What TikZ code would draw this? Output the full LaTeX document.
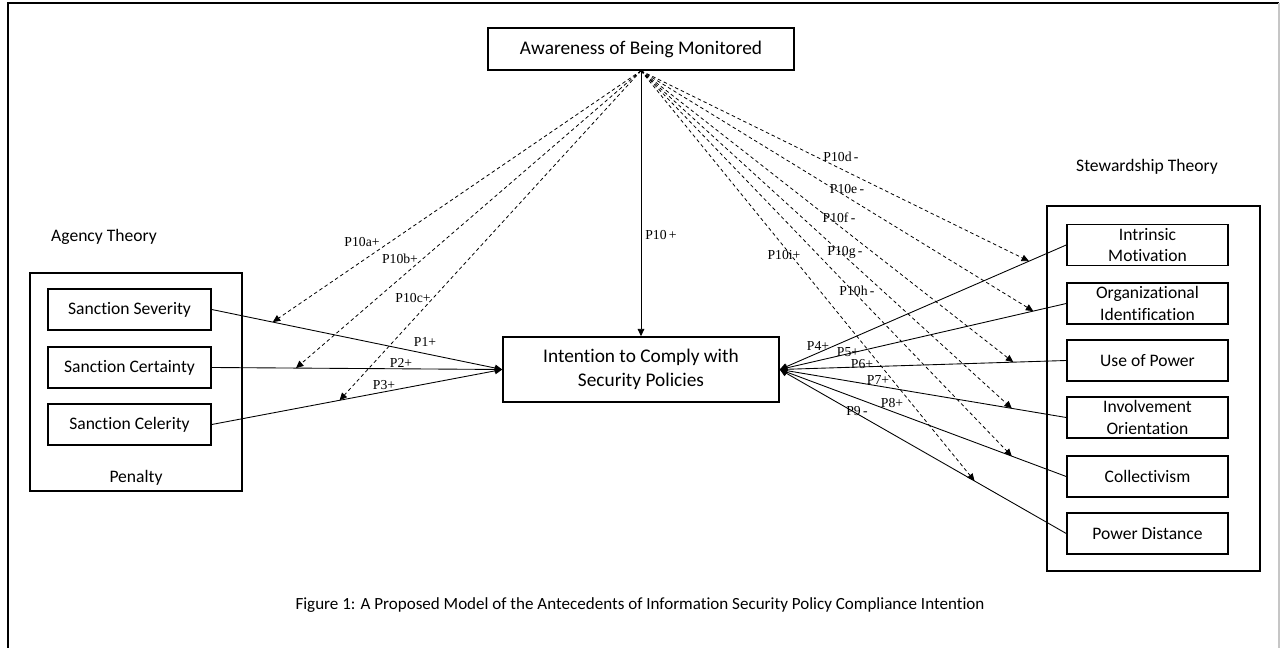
\documentclass[tikz,border=0pt]{standalone}
\usepackage{fontspec}
\setmainfont{Carlito}[Ligatures={NoCommon,NoRequired,NoContextual}, Contextuals=NoAlternate]
\newfontfamily\timesfont{Liberation Serif}
\usetikzlibrary{arrows.meta,calc}

\begin{document}
\begin{tikzpicture}[x=0.02cm, y=-0.02cm,
    box/.style={draw, line width=0.9pt, minimum width=3.22cm, minimum height=0.82cm,
        inner sep=1pt, align=center, font=\fontsize{10}{12}\selectfont},
    groupbox/.style={draw, line width=0.9pt, inner sep=0pt},
    grouplabel/.style={font=\fontsize{10}{12}\selectfont},
    link/.style={-{Triangle[width=3.8pt,length=4.2pt]}, line width=0.5pt},
    moderate/.style={link, dash pattern=on 2pt off 1.6pt, line width=0.45pt},
    plabel/.style={font=\timesfont\fontsize{7.8}{9}\selectfont, inner sep=0pt}]
   \useasboundingbox (0,0) rectangle (1281,648);
   % outer frame
   \draw[line width=1.2pt] (8,648) -- (8,3) -- (1279,3);
   \draw[gray!45, line width=0.8pt] (1279,3) -- (1279,648);

   % agency theory
   \node[grouplabel] (agencylbl) at (104,237) {Agency Theory};
   \node[groupbox, minimum width=4.24cm, minimum height=4.36cm] (agency) at (136,382) {};
   \node[box, minimum width=3.26cm] (sev) at (129.5,309.5) {Sanction Severity};
   \node[box, minimum width=3.26cm] (cert) at (129.5,367.5) {Sanction Certainty};
   \node[box, minimum width=3.26cm] (cel) at (129.5,424.5) {Sanction Celerity};
   \node[grouplabel] (penalty) at (136,478) {Penalty};

   % monitoring and intention
   \node[box, minimum width=6.12cm, minimum height=0.84cm,
         font=\fontsize{11}{13}\selectfont] (aware) at (641,49) {Awareness of Being Monitored};
   \node[box, minimum width=5.52cm, minimum height=1.3cm,
         font=\fontsize{11}{13.6}\selectfont] (intent) at (641,369.5)
         {Intention to Comply with\\Security Policies};

   % stewardship theory
   \node[grouplabel] (stewardlbl) at (1147,167) {Stewardship Theory};
   \node[groupbox, minimum width=4.26cm, minimum height=7.3cm] (steward) at (1153.5,388.5) {};
   \foreach \name/\y/\txt in {intr/245/{Intrinsic\\Motivation},
                              orgid/303.5/{Organizational\\Identification},
                              power/360.5/{Use of Power},
                              involve/417.5/{Involvement\\Orientation},
                              collect/476.5/{Collectivism},
                              pdist/533.5/{Power Distance}}
      \node[box] (\name) at (1147.5,\y) {\txt};

   % direct effects
   \draw[link] (aware.south) -- (intent.north);
   \foreach \name in {sev,cert,cel}
      \draw[link] (\name.east) -- (intent.west);
   \foreach \name in {intr,orgid,power,involve,collect,pdist}
      \draw[link] (\name.west) -- (intent.east);

   % moderating effects
   \foreach \name/\t/\c in {sev/0.21/ma, cert/0.29/mb, cel/0.44/mc}{
      \coordinate (\c) at ($(\name.east)!\t!(intent.west)$);
      \draw[moderate] (aware.south) -- (\c);
   }
   \foreach \name/\t/\c in {intr/0.13/md, orgid/0.115/me, power/0.185/mf,
                            involve/0.19/mg, collect/0.19/mh, pdist/0.32/mi}{
      \coordinate (\c) at ($(\name.west)!\t!(intent.east)$);
      \draw[moderate] (aware.south) -- (\c);
   }

   % propositions
   \foreach \x/\y/\txt [count=\i] in {362/242/P10a+, 400/259/P10b+, 413/298/P10c+,
        425/342/P1+, 401/363/P2+, 384/385/P3+, 661/235/P10\,+,
        841/157/P10d\,-, 847/189/P10e\,-, 839/218/P10f\,-, 845/252/P10g\,-,
        857/291/P10h\,-, 784/255/P10i+,
        818/346/P4+, 848/352/P5+, 862/364/P6+, 878/380/P7+, 892/403/P8+, 857/411/P9\,-}
      \node[plabel] (prop\i) at (\x,\y) {\txt};

   \node[font=\fontsize{9.7}{11}\selectfont] (caption) at (640,605)
      {Figure 1: A Proposed Model of the Antecedents of Information Security Policy Compliance Intention};
\end{tikzpicture}
\end{document}
